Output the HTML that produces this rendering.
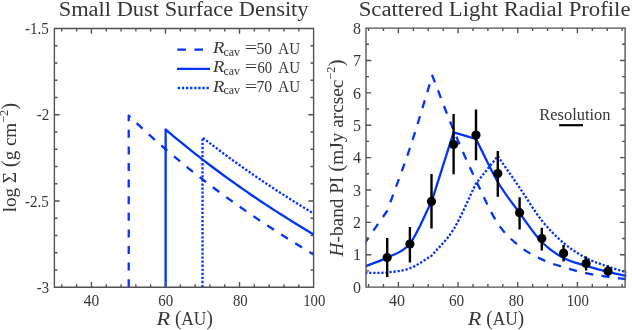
<!DOCTYPE html><html><head><meta charset="utf-8"><style>html,body{margin:0;padding:0;background:#fff;width:632px;height:330px;overflow:hidden}svg{display:block;will-change:transform}</style></head><body><svg width="632" height="330" viewBox="0 0 632 330">
<rect width="632" height="330" fill="#fff"/>
<defs><clipPath id="cl"><rect x="54.4" y="28.5" width="260.4" height="258.7"/></clipPath>
<clipPath id="cr"><rect x="366.0" y="28.1" width="260.3" height="259"/></clipPath></defs>
<g clip-path="url(#cl)" fill="none" stroke="#0233fa" stroke-width="2.3" stroke-linejoin="round">
<path d="M128.72 287.2 L128.72 115.6 L133.34 120.04 L137.96 124.41 L142.58 128.71 L147.2 132.95 L151.83 137.13 L156.45 141.25 L161.07 145.31 L165.69 149.31 L170.32 153.26 L174.94 157.15 L179.56 160.99 L184.18 164.78 L188.8 168.52 L193.43 172.21 L198.05 175.85 L202.67 179.45 L207.29 183 L211.91 186.51 L216.54 189.98 L221.16 193.4 L225.78 196.78 L230.4 200.13 L235.02 203.43 L239.65 206.7 L244.27 209.93 L248.89 213.12 L253.51 216.28 L258.13 219.4 L262.76 222.49 L267.38 225.55 L272 228.57 L276.62 231.56 L281.25 234.53 L285.87 237.46 L290.49 240.36 L295.11 243.23 L299.73 246.07 L304.36 248.88 L308.98 251.67 L313.6 254.43" stroke-dasharray="8 8.6"/>
<path d="M165.63 287.2 L165.63 129.5 L169.33 132.65 L173.03 135.77 L176.73 138.86 L180.43 141.92 L184.13 144.94 L187.83 147.93 L191.53 150.89 L195.23 153.81 L198.93 156.71 L202.63 159.58 L206.32 162.42 L210.02 165.23 L213.72 168.02 L217.42 170.78 L221.12 173.51 L224.82 176.21 L228.52 178.89 L232.22 181.55 L235.92 184.18 L239.62 186.78 L243.32 189.36 L247.02 191.92 L250.71 194.46 L254.41 196.97 L258.11 199.46 L261.81 201.93 L265.51 204.38 L269.21 206.81 L272.91 209.22 L276.61 211.6 L280.31 213.97 L284.01 216.32 L287.71 218.64 L291.41 220.95 L295.1 223.24 L298.8 225.52 L302.5 227.77 L306.2 230.01 L309.9 232.22 L313.6 234.43"/>
<path d="M202.51 287.2 L202.51 137.5 L205.29 139.67 L208.07 141.82 L210.85 143.95 L213.62 146.07 L216.4 148.18 L219.18 150.27 L221.95 152.34 L224.73 154.4 L227.51 156.45 L230.29 158.48 L233.06 160.49 L235.84 162.5 L238.62 164.48 L241.39 166.46 L244.17 168.42 L246.95 170.37 L249.73 172.3 L252.5 174.22 L255.28 176.13 L258.06 178.03 L260.83 179.91 L263.61 181.79 L266.39 183.65 L269.17 185.49 L271.94 187.33 L274.72 189.16 L277.5 190.97 L280.27 192.77 L283.05 194.56 L285.83 196.34 L288.61 198.11 L291.38 199.87 L294.16 201.61 L296.94 203.35 L299.71 205.08 L302.49 206.79 L305.27 208.5 L308.05 210.19 L310.82 211.88 L313.6 213.56" stroke-dasharray="2.3 1.76"/>
</g>
<path d="M54.4 28.5H313.6V287.2H54.4ZM91.43 287.2v-5.2M91.43 28.5v5.2M165.49 287.2v-5.2M165.49 28.5v5.2M239.54 287.2v-5.2M239.54 28.5v5.2M61.81 287.2v-3.0M61.81 28.5v3.0M76.62 287.2v-3.0M76.62 28.5v3.0M106.24 287.2v-3.0M106.24 28.5v3.0M121.05 287.2v-3.0M121.05 28.5v3.0M135.86 287.2v-3.0M135.86 28.5v3.0M150.67 287.2v-3.0M150.67 28.5v3.0M180.3 287.2v-3.0M180.3 28.5v3.0M195.11 287.2v-3.0M195.11 28.5v3.0M209.92 287.2v-3.0M209.92 28.5v3.0M224.73 287.2v-3.0M224.73 28.5v3.0M254.35 287.2v-3.0M254.35 28.5v3.0M269.17 287.2v-3.0M269.17 28.5v3.0M283.98 287.2v-3.0M283.98 28.5v3.0M298.79 287.2v-3.0M298.79 28.5v3.0M54.4 114.73h5.2M313.6 114.73h-5.2M54.4 200.97h5.2M313.6 200.97h-5.2M54.4 45.75h3.0M313.6 45.75h-3.0M54.4 62.99h3.0M313.6 62.99h-3.0M54.4 80.24h3.0M313.6 80.24h-3.0M54.4 97.49h3.0M313.6 97.49h-3.0M54.4 131.98h3.0M313.6 131.98h-3.0M54.4 149.23h3.0M313.6 149.23h-3.0M54.4 166.47h3.0M313.6 166.47h-3.0M54.4 183.72h3.0M313.6 183.72h-3.0M54.4 218.21h3.0M313.6 218.21h-3.0M54.4 235.46h3.0M313.6 235.46h-3.0M54.4 252.71h3.0M313.6 252.71h-3.0M54.4 269.95h3.0M313.6 269.95h-3.0" fill="none" stroke="#505050" stroke-width="1.35"/>
<g clip-path="url(#cr)" fill="none" stroke="#0233fa" stroke-width="2.3" stroke-linejoin="round">
<path d="M365.1 242.5 C372.47 231.93 379.83 221.37 387.2 210.8 C394.77 189.87 402.38 170.53 409.9 148 C417.42 125.47 424.83 99.73 432.3 75.6 C439.4 93.8 446.32 112.72 453.6 130.2 C460.88 147.68 468.63 164.95 476 180.5 C483.37 196.05 490.53 212.53 497.8 223.5 C505.07 234.47 512.27 240.32 519.6 246.3 C526.93 252.28 534.47 255.9 541.8 259.4 C549.13 262.9 556.22 265 563.6 267.3 C570.98 269.6 578.7 271.6 586.1 273.2 C593.5 274.8 600.68 275.83 608 276.9 C615.32 277.97 622.67 278.7 630 279.6" stroke-dasharray="8.1 8.5" stroke-dashoffset="2.11"/>
<path d="M365.1 266.3 C372.47 263.4 379.73 261.38 387.2 257.6 C394.67 253.82 402.52 252.9 409.9 243.6 C417.28 234.3 424.3 215.73 431.5 201.8 C438.87 178.63 446.23 155.47 453.6 132.3 C461.07 134.53 468.53 136.77 476 139 C483.27 153.33 490.53 169.67 497.8 182 C505.07 194.33 512.27 203 519.6 213 C526.93 223 534.47 234.5 541.8 242 C549.13 249.5 556.22 254.03 563.6 258 C570.98 261.97 578.7 263.5 586.1 265.8 C593.5 268.1 600.68 270 608 271.8 C615.32 273.6 622.67 275 630 276.6"/>
<path d="M365.1 273 C372.47 272.8 379.73 273.18 387.2 272.4 C394.67 271.62 402.52 271.07 409.9 268.3 C417.28 265.53 424.3 259.97 431.5 255.8 C438.87 246.97 446.18 241.35 453.6 229.3 C461.02 217.25 468.53 198.77 476 183.5 C483.27 174.37 490.53 165.23 497.8 156.1 C505.07 166.63 512.27 176.97 519.6 187.7 C526.93 198.43 534.47 211.28 541.8 220.5 C549.13 229.72 556.22 236.75 563.6 243 C570.98 249.25 578.7 254.07 586.1 258 C593.5 261.93 600.68 264.03 608 266.6 C615.32 269.17 622.67 271.13 630 273.4" stroke-dasharray="2.3 1.76"/>
</g>
<path d="M387.2 238V276.9M409.9 227V262.4M431.5 174V228.6M453.6 114.1V174.2M476 109.5V160.2M497.8 150.9V196.7M519.6 197.3V229.6M541.8 227.8V250.5M563.6 245V261.4M586.1 256.4V270.5M608 265.5V276" stroke="#000" stroke-width="2.4" fill="none"/>
<g fill="#000"><circle cx="387.2" cy="257.5" r="4.6"/><circle cx="409.9" cy="244" r="4.6"/><circle cx="431.5" cy="201.4" r="4.6"/><circle cx="453.6" cy="144.5" r="4.6"/><circle cx="476" cy="135" r="4.6"/><circle cx="497.8" cy="173.6" r="4.6"/><circle cx="519.6" cy="212.7" r="4.6"/><circle cx="541.8" cy="238.6" r="4.6"/><circle cx="563.6" cy="253.2" r="4.6"/><circle cx="586.1" cy="263.6" r="4.6"/><circle cx="608" cy="271.3" r="4.6"/></g>
<path d="M366.0 28.1H625.1V287.1H366.0ZM398.4 287.1v-5.2M398.4 28.1v5.2M458.07 287.1v-5.2M458.07 28.1v5.2M517.73 287.1v-5.2M517.73 28.1v5.2M577.4 287.1v-5.2M577.4 28.1v5.2M368.57 287.1v-3.0M368.57 28.1v3.0M383.48 287.1v-3.0M383.48 28.1v3.0M413.32 287.1v-3.0M413.32 28.1v3.0M428.23 287.1v-3.0M428.23 28.1v3.0M443.15 287.1v-3.0M443.15 28.1v3.0M472.98 287.1v-3.0M472.98 28.1v3.0M487.9 287.1v-3.0M487.9 28.1v3.0M502.82 287.1v-3.0M502.82 28.1v3.0M532.65 287.1v-3.0M532.65 28.1v3.0M547.56 287.1v-3.0M547.56 28.1v3.0M562.48 287.1v-3.0M562.48 28.1v3.0M592.31 287.1v-3.0M592.31 28.1v3.0M607.23 287.1v-3.0M607.23 28.1v3.0M622.15 287.1v-3.0M622.15 28.1v3.0M366 254.73h5.2M625.1 254.73h-5.2M366 222.35h5.2M625.1 222.35h-5.2M366 189.98h5.2M625.1 189.98h-5.2M366 157.6h5.2M625.1 157.6h-5.2M366 125.23h5.2M625.1 125.23h-5.2M366 92.85h5.2M625.1 92.85h-5.2M366 60.48h5.2M625.1 60.48h-5.2M366 270.91h3.0M625.1 270.91h-3.0M366 238.54h3.0M625.1 238.54h-3.0M366 206.16h3.0M625.1 206.16h-3.0M366 173.79h3.0M625.1 173.79h-3.0M366 141.41h3.0M625.1 141.41h-3.0M366 109.04h3.0M625.1 109.04h-3.0M366 76.66h3.0M625.1 76.66h-3.0M366 44.29h3.0M625.1 44.29h-3.0" fill="none" stroke="#505050" stroke-width="1.35"/>
<path d="M559.2 125.2H583" stroke="#000" stroke-width="2.2"/>
<g stroke="#0233fa" stroke-width="2.4" fill="none"><path d="M177.3 49.6H210" stroke-dasharray="8.6 8.5"/><path d="M177 68.9H210"/><path d="M177.8 88H210" stroke-dasharray="2.3 1.8"/></g>
<g font-family="Liberation Serif, serif" fill="#363636">
<text x="58.7" y="15.7" font-size="20.8" textLength="249.88" lengthAdjust="spacingAndGlyphs">Small Dust Surface Density</text>
<text x="358.7" y="15.7" font-size="20.8" textLength="271.81" lengthAdjust="spacingAndGlyphs">Scattered Light Radial Profile</text>
<text x="156.4" y="324.7" font-size="19.5" textLength="13.57" lengthAdjust="spacingAndGlyphs"><tspan font-style="italic">R</tspan></text>
<text x="175" y="324.7" font-size="19.5" textLength="37.77" lengthAdjust="spacingAndGlyphs"><tspan font-size="21.5">(</tspan>AU<tspan font-size="21.5">)</tspan></text>
<text x="467.8" y="324.7" font-size="19.5" textLength="13.57" lengthAdjust="spacingAndGlyphs"><tspan font-style="italic">R</tspan></text>
<text x="486.3" y="324.7" font-size="19.5" textLength="37.77" lengthAdjust="spacingAndGlyphs"><tspan font-size="21.5">(</tspan>AU<tspan font-size="21.5">)</tspan></text>
<text x="539.3" y="119.5" font-size="16" textLength="71.16" lengthAdjust="spacingAndGlyphs">Resolution</text>
<text x="83.8" y="306.4" font-size="16" textLength="15.4" lengthAdjust="spacingAndGlyphs">40</text>
<text x="388.9" y="306.4" font-size="16" textLength="16.03" lengthAdjust="spacingAndGlyphs">40</text>
<text x="158.2" y="306.4" font-size="16" textLength="15" lengthAdjust="spacingAndGlyphs">60</text>
<text x="449" y="306.4" font-size="16" textLength="15.23" lengthAdjust="spacingAndGlyphs">60</text>
<text x="232.9" y="306.4" font-size="16" textLength="14.82" lengthAdjust="spacingAndGlyphs">80</text>
<text x="508.7" y="306.4" font-size="16" textLength="15.23" lengthAdjust="spacingAndGlyphs">80</text>
<text x="303.2" y="306.4" font-size="16" textLength="22.14" lengthAdjust="spacingAndGlyphs">100</text>
<text x="566.7" y="306.4" font-size="16" textLength="22.14" lengthAdjust="spacingAndGlyphs">100</text>
<text x="25" y="34.2" font-size="16" textLength="23.91" lengthAdjust="spacingAndGlyphs">-1.5</text>
<text x="36.8" y="120.43" font-size="16" textLength="12.55" lengthAdjust="spacingAndGlyphs">-2</text>
<text x="25" y="206.67" font-size="16" textLength="23.91" lengthAdjust="spacingAndGlyphs">-2.5</text>
<text x="36.8" y="292.9" font-size="16" textLength="12.3" lengthAdjust="spacingAndGlyphs">-3</text>
<text x="361" y="292.8" font-size="16" text-anchor="end">0</text>
<text x="361" y="260.43" font-size="16" text-anchor="end">1</text>
<text x="361" y="228.05" font-size="16" text-anchor="end">2</text>
<text x="361" y="195.68" font-size="16" text-anchor="end">3</text>
<text x="361" y="163.3" font-size="16" text-anchor="end">4</text>
<text x="361" y="130.93" font-size="16" text-anchor="end">5</text>
<text x="361" y="98.55" font-size="16" text-anchor="end">6</text>
<text x="361" y="66.18" font-size="16" text-anchor="end">7</text>
<text x="361" y="33.8" font-size="16" text-anchor="end">8</text>
<text x="212.9" y="53.4" font-size="16.5" textLength="11.33" lengthAdjust="spacingAndGlyphs"><tspan font-style="italic">R</tspan></text>
<text x="223.4" y="55.6" font-size="13.5" textLength="16.58" lengthAdjust="spacingAndGlyphs">cav</text>
<text x="244.8" y="53.4" font-size="16" textLength="12.47" lengthAdjust="spacingAndGlyphs">=</text>
<text x="256.4" y="54" font-size="16.5" textLength="15.64" lengthAdjust="spacingAndGlyphs">50</text>
<text x="278.3" y="54" font-size="16.5" textLength="21.67" lengthAdjust="spacingAndGlyphs">AU</text>
<text x="212.9" y="72.4" font-size="16.5" textLength="11.33" lengthAdjust="spacingAndGlyphs"><tspan font-style="italic">R</tspan></text>
<text x="223.4" y="74.6" font-size="13.5" textLength="16.58" lengthAdjust="spacingAndGlyphs">cav</text>
<text x="244.8" y="72.4" font-size="16" textLength="12.47" lengthAdjust="spacingAndGlyphs">=</text>
<text x="257.4" y="73" font-size="16.5" textLength="14.66" lengthAdjust="spacingAndGlyphs">60</text>
<text x="278.3" y="73" font-size="16.5" textLength="21.67" lengthAdjust="spacingAndGlyphs">AU</text>
<text x="212.9" y="91.6" font-size="16.5" textLength="11.33" lengthAdjust="spacingAndGlyphs"><tspan font-style="italic">R</tspan></text>
<text x="223.4" y="93.8" font-size="13.5" textLength="16.58" lengthAdjust="spacingAndGlyphs">cav</text>
<text x="244.8" y="91.6" font-size="16" textLength="12.47" lengthAdjust="spacingAndGlyphs">=</text>
<text x="256.4" y="92.2" font-size="16.5" textLength="15.64" lengthAdjust="spacingAndGlyphs">70</text>
<text x="278.3" y="92.2" font-size="16.5" textLength="21.67" lengthAdjust="spacingAndGlyphs">AU</text>
<text transform="translate(15.9 212.3) rotate(-90)" font-size="19.5" textLength="109.5" lengthAdjust="spacingAndGlyphs">log Σ <tspan font-size="21.5">(</tspan>g cm<tspan font-size="12.5" dy="-7.5">−2</tspan><tspan font-size="21.5" dy="7.5">)</tspan></text>
<text transform="translate(342.7 256.4) rotate(-90)" font-size="19.5" textLength="197" lengthAdjust="spacingAndGlyphs"><tspan font-style="italic">H</tspan>-band PI <tspan font-size="21.5">(</tspan>mJy arcsec<tspan font-size="12.5" dy="-7.5">−2</tspan><tspan font-size="21.5" dy="7.5">)</tspan></text>
</g>
</svg></body></html>
